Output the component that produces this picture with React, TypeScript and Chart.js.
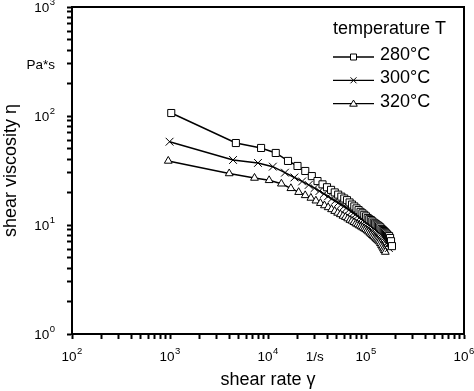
import React, { useEffect, useRef } from "react";
import { Chart, registerables } from "chart.js";

Chart.register(...registerables);

// ---------- data ----------
const seriesNames = ["280°C", "300°C", "320°C"];
const legendTitle = "temperature T";

const rate280 = [1030, 4700, 8500, 12000, 16000, 20000, 24000, 28000, 32000, 36000, 40000, 44000, 48000, 52000, 56000, 60000, 64000, 68000, 72000, 76000, 80000, 84000, 88000, 92000, 96000, 100000, 104000, 108000, 112000, 116000, 120000, 124000, 128000, 132000, 136000, 140000, 144000, 148000, 152000, 156000, 160000, 164000, 168000, 172000, 176000, 180000, 184000];
const visc280 = [106.5, 56.5, 50.9, 45.8, 38.7, 34.8, 31.3, 28.1, 25.3, 23.6, 22.2, 21.0, 19.9, 19.0, 18.2, 17.5, 16.9, 16.1, 15.4, 14.8, 14.2, 13.7, 13.2, 12.8, 12.4, 12.0, 11.6, 11.3, 11.1, 10.8, 10.5, 10.3, 10.1, 9.9, 9.7, 9.5, 9.2, 9.0, 8.8, 8.6, 8.4, 8.2, 8.0, 7.9, 7.6, 7.1, 6.4];

const rate300 = [990, 4400, 7900, 11200, 14900, 18600, 22300, 26000, 29800, 33500, 37200, 40900, 44600, 48400, 52100, 55800, 59500, 63200, 67000, 70700, 74400, 78100, 81800, 85600, 89300, 93000, 96700, 100400, 104200, 107900, 111600, 115300, 119000, 122800, 126500, 130200, 133900, 137600, 141400, 145100, 148800, 152500, 156200, 160000, 163700, 167400, 171100];
const visc300 = [58.1, 39.5, 37.1, 34.3, 30.2, 27.3, 25.1, 23.3, 21.8, 20.5, 19.3, 18.3, 17.4, 16.7, 16.0, 15.4, 14.85, 14.35, 13.8, 13.3, 12.9, 12.5, 12.1, 11.7, 11.4, 11.1, 10.8, 10.5, 10.26, 10.0, 9.77, 9.57, 9.35, 9.15, 8.96, 8.79, 8.63, 8.46, 8.23, 8.01, 7.81, 7.61, 7.42, 7.21, 6.91, 6.55, 6.15];

const rate320 = [960, 4020, 7280, 10270, 13700, 17120, 20540, 23970, 27390, 30820, 34240, 37660, 41090, 44510, 47940, 51360, 54780, 58210, 61630, 65060, 68480, 71900, 75330, 78750, 82180, 85600, 89020, 92450, 95870, 99300, 102700, 106100, 109600, 113000, 116400, 119800, 123300, 126700, 130100, 133500, 137000, 140400, 143800, 147200, 150700, 154100, 157500];
const visc320 = [38.7, 29.7, 27.0, 25.7, 23.9, 21.7, 20.0, 18.7, 17.7, 16.7, 15.85, 15.1, 14.5, 13.9, 13.4, 12.9, 12.5, 12.1, 11.8, 11.45, 11.1, 10.9, 10.6, 10.3, 10.1, 9.87, 9.67, 9.46, 9.29, 9.11, 8.90, 8.68, 8.46, 8.25, 8.05, 7.86, 7.66, 7.48, 7.33, 7.18, 7.03, 6.79, 6.54, 6.30, 6.06, 5.86, 5.65];

const xTickValues = [100, 1000, 10000, 30000, 100000, 1000000];
const xTickTexts = ["10^2", "10^3", "10^4", "1/s", "10^5", "10^6"];
const yTickValues = [1, 10, 100, 300, 1000];
const yTickTexts = ["10^0", "10^1", "10^2", "Pa*s", "10^3"];

const xTitle = "shear rate γ";
const yTitle = "shear viscosity η";

const FONT = "'Liberation Sans', Arial, Helvetica, sans-serif";

function logTicks(min: number, max: number) {
  const out: { value: number }[] = [];
  for (let e = Math.round(Math.log10(min)); Math.pow(10, e) <= max; e++) {
    for (let s = 1; s <= 9; s++) {
      const v = s * Math.pow(10, e);
      if (v > max * 1.0000001) break;
      out.push({ value: v });
    }
  }
  return out;
}

function drawTickText(ctx: CanvasRenderingContext2D, text: string, x: number, baseline: number, align: "center" | "right") {
  const parts = text.split("^");
  const base = parts[0];
  const exp = parts[1] || "";
  ctx.font = `13.5px ${FONT}`;
  const bw = ctx.measureText(base).width;
  ctx.font = `9.5px ${FONT}`;
  const ew = exp ? ctx.measureText(exp).width + 0.5 : 0;
  const w = bw + ew;
  const sx = align === "center" ? x - w / 2 : x - w;
  ctx.textAlign = "left";
  ctx.textBaseline = "alphabetic";
  ctx.font = `13.5px ${FONT}`;
  ctx.fillText(base, sx, baseline);
  if (exp) {
    ctx.font = `9.5px ${FONT}`;
    ctx.fillText(exp, sx + bw + 0.5, baseline - 7);
  }
}

const markerStyles = ["rect", "crossRot", "triangle"];
const markerRadius = [5, 5.5, 4.5];

function drawMarker(ctx: CanvasRenderingContext2D, kind: number, x: number, y: number) {
  ctx.beginPath();
  if (kind === 0) {
    ctx.rect(x - 3, y - 3, 6, 6);
    ctx.fill();
    ctx.stroke();
  } else if (kind === 1) {
    ctx.moveTo(x - 3, y - 3);
    ctx.lineTo(x + 3, y + 3);
    ctx.moveTo(x + 3, y - 3);
    ctx.lineTo(x - 3, y + 3);
    ctx.stroke();
  } else {
    ctx.moveTo(x, y - 3.5);
    ctx.lineTo(x + 3.8, y + 2.6);
    ctx.lineTo(x - 3.8, y + 2.6);
    ctx.closePath();
    ctx.fill();
    ctx.stroke();
  }
}

const overlayPlugin = {
  id: "frameLabelsLegend",
  afterDraw(chart: any) {
    const { ctx, chartArea } = chart;
    ctx.save();
    ctx.strokeStyle = "#000";
    ctx.lineWidth = 2;
    ctx.strokeRect(chartArea.left, chartArea.top, chartArea.right - chartArea.left, chartArea.bottom - chartArea.top);

    // tick labels
    ctx.fillStyle = "#000";
    const xs = chart.scales.x;
    const ys = chart.scales.y;
    xTickValues.forEach((v, i) => {
      drawTickText(ctx, xTickTexts[i], xs.getPixelForValue(v), chartArea.bottom + 27, "center");
    });
    yTickValues.forEach((v, i) => {
      drawTickText(ctx, yTickTexts[i], chartArea.left - 17, ys.getPixelForValue(v) + 4.8, "right");
    });

    // legend
    ctx.font = `18px ${FONT}`;
    ctx.textBaseline = "alphabetic";
    ctx.textAlign = "left";
    ctx.fillText(legendTitle, 333, 34);
    seriesNames.forEach((name, i) => {
      const base = 60 + i * 23.3;
      const ly = base - 3;
      ctx.lineWidth = 1.3;
      ctx.strokeStyle = "#000";
      ctx.beginPath();
      ctx.moveTo(333, ly);
      ctx.lineTo(374, ly);
      ctx.stroke();
      ctx.fillStyle = "#fff";
      ctx.lineWidth = 1;
      drawMarker(ctx, i, 353.5, ly);
      ctx.fillStyle = "#000";
      ctx.font = `18px ${FONT}`;
      ctx.fillText(name, 380, base);
    });
    ctx.restore();
  },
};

export default function App() {
  const canvasRef = useRef<HTMLCanvasElement | null>(null);

  useEffect(() => {
    if (!canvasRef.current) return;
    const rates = [rate280, rate300, rate320];
    const viscs = [visc280, visc300, visc320];
    const datasets = seriesNames.map((name, i) => ({
      label: name,
      data: rates[i].map((x, j) => ({ x, y: viscs[i][j] })),
      borderColor: "#000",
      borderWidth: 1.5,
      backgroundColor: "#fff",
      pointStyle: markerStyles[i],
      pointRadius: markerRadius[i],
      pointBorderWidth: 1,
      pointBorderColor: "#000",
      pointBackgroundColor: "#fff",
      tension: 0,
      fill: false,
    }));

    const chart = new Chart(canvasRef.current, {
      type: "line",
      data: { datasets },
      plugins: [overlayPlugin],
      options: {
        animation: false,
        responsive: true,
        maintainAspectRatio: false,
        layout: { padding: { left: 0, top: 7, right: 10, bottom: 0 } },
        plugins: { legend: { display: false }, tooltip: { enabled: false } },
        scales: {
          x: {
            type: "logarithmic",
            min: 100,
            max: 1000000,
            afterBuildTicks: (s: any) => {
              s.ticks = logTicks(100, 1000000);
            },
            afterFit: (s: any) => {
              s.height = 57;
            },
            grid: { drawOnChartArea: false, drawTicks: true, tickLength: 5, tickWidth: 2, tickColor: "#000" },
            border: { display: true, color: "#000", width: 2 },
            ticks: { display: false, autoSkip: false },
            title: { display: true, text: xTitle, color: "#000", font: { family: FONT, size: 18 }, padding: 0 },
          },
          y: {
            type: "logarithmic",
            min: 1,
            max: 1000,
            afterBuildTicks: (s: any) => {
              s.ticks = logTicks(1, 1000);
            },
            afterFit: (s: any) => {
              s.width = 72;
            },
            grid: { drawOnChartArea: false, drawTicks: true, tickLength: 5, tickWidth: 2, tickColor: "#000" },
            border: { display: true, color: "#000", width: 2 },
            ticks: { display: false, autoSkip: false },
            title: { display: true, text: yTitle, color: "#000", font: { family: FONT, size: 18 }, padding: 0 },
          },
        },
      },
    } as any);
    return () => chart.destroy();
  }, []);

  return (
    <div style={{ position: "fixed", left: 0, top: 0, width: 474, height: 391, background: "#fff" }}>
      <canvas ref={canvasRef} style={{ width: "100%", height: "100%" }} />
    </div>
  );
}
